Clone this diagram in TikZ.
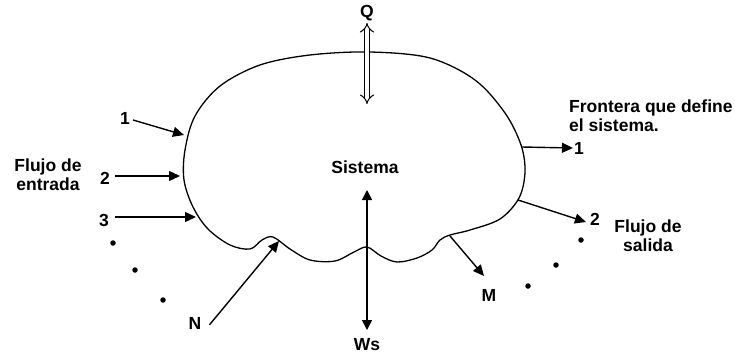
\documentclass[tikz,border=0pt]{standalone}
\usepackage{fontspec}
\setmainfont{Liberation Sans}
\usetikzlibrary{arrows.meta}
\begin{document}
\begin{tikzpicture}[x=1pt,y=-1pt,
  lbl/.style={font=\fontsize{17.5}{19}\selectfont\bfseries, inner sep=0pt},
  flow/.style={line width=1.4pt, -{Triangle[length=11pt,width=10pt]}},
  bound/.style={line width=1.3pt},
  dotm/.style={circle, fill=black, inner sep=0pt, minimum size=5.5pt}]
\useasboundingbox (0,0) rectangle (735,356);
% boundary
\draw[bound] plot[smooth cycle, tension=0.55] coordinates {
 (370,52) (430,58) (475,80) (505,113) (521,145) (525,172) (519,198) (500,219)
 (470,230) (450,235) (440,240) (432,250) (417,258) (397,262) (381,256) (367,247)
 (354,252) (335,261) (310,260) (290,249) (273,237) (262,240) (250,249) (230,245)
 (208,229) (193,207) (184,180) (185,150) (195,116) (220,86) (260,65) (310,55)};
% labels
\node[lbl] (sis) at (365,167) {Sistema};
\node[lbl] (q) at (367,13) {Q};
\node[lbl] (ws) at (367,345) {Ws};
\node[lbl, align=center] (fe) at (48,175) {Flujo de\\entrada};
\node[lbl, align=center] (fs) at (648,236) {Flujo de\\salida};
\node[lbl, align=left, anchor=west] (fr) at (569,116) {Frontera que define\\el sistema.};
\node[lbl] (i1) at (125,118) {1};
\node[lbl] (i2) at (105,178) {2};
\node[lbl] (i3) at (104,220) {3};
\node[lbl] (o1) at (579,148) {1};
\node[lbl] (o2) at (595,219) {2};
\node[lbl] (n) at (195,323) {N};
\node[lbl] (m) at (489,295) {M};
% inflow arrows
\coordinate (a1) at (184,135);
\coordinate (a2) at (180,176);
\coordinate (a3) at (196,217);
\draw[flow] (i1.east) ++(3,2) -- (a1);
\draw[flow] (i2.east) ++(5,-2) -- (a2);
\draw[flow] (i3.east) ++(6,-3) -- (a3);
% outflow arrows
\coordinate (b1) at (522,147);
\coordinate (b2) at (518,200);
\draw[flow] (b1) -- ([xshift=-1pt]o1.west);
\draw[flow] (b2) -- ([xshift=-4pt,yshift=-3pt]o2.west);
% N and M
\coordinate (nt) at (279,241);
\coordinate (ms) at (450,236);
\coordinate (me) at (484,276);
\draw[flow] ([xshift=8pt,yshift=-8pt]n.north east) -- (nt);
\draw[flow] (ms) -- (me);
% work
\coordinate (wt) at (367,190);
\coordinate (wb) at (367,330);
\draw[line width=1.4pt, {Triangle[length=10pt,width=10pt]}-{Triangle[length=10pt,width=10pt]}] (wt) -- (wb);
% heat
\coordinate (qt) at (367,23);
\coordinate (qb) at (367,104);
\draw[double, line width=1pt, double distance=4pt, {Implies}-{Implies}] (qt) -- (qb);
% dots
\node[dotm] (d1) at (113,243) {};
\node[dotm] (d2) at (135,270) {};
\node[dotm] (d3) at (163,300) {};
\node[dotm] (d4) at (528,286) {};
\node[dotm] (d5) at (556,265) {};
\node[dotm] (d6) at (581,240) {};
\end{tikzpicture}
\end{document}
